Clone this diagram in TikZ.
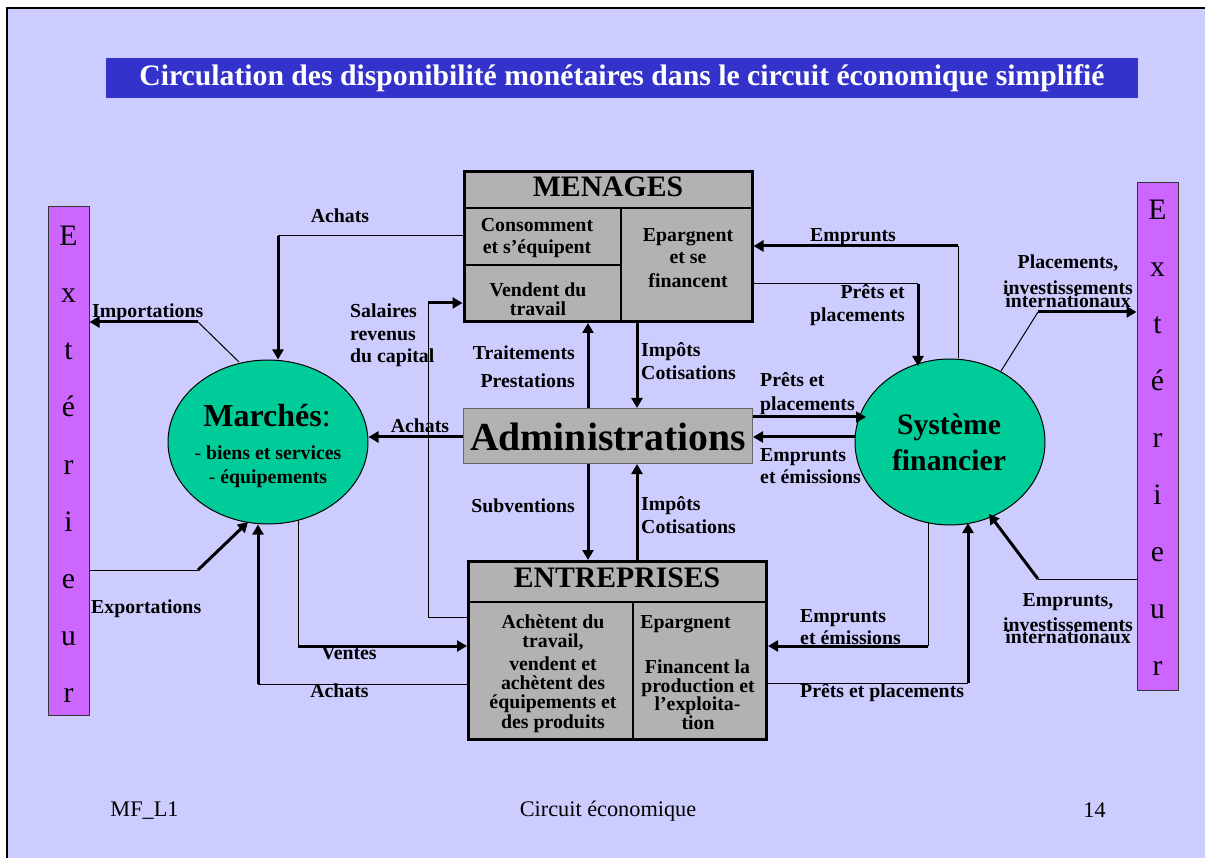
\documentclass[tikz,border=0pt]{standalone}
\usepackage{fontspec}
\setmainfont{Liberation Serif}
\usetikzlibrary{arrows.meta,shapes.geometric}
\definecolor{bgcol}{HTML}{CCCCFF}
\definecolor{titlecol}{HTML}{3333CC}
\definecolor{extcol}{HTML}{CC66FF}
\definecolor{ellcol}{HTML}{00CC99}
\definecolor{boxcol}{HTML}{B2B2B2}
\newcommand\lblfont{\bfseries\fontsize{19.8}{22}\selectfont}
\newcommand\bigfont{\bfseries\fontsize{29.7}{32}\selectfont}
\begin{document}
\begin{tikzpicture}[x=1pt,y=-1pt,
  lbl/.style={font=\lblfont, inner sep=0pt, anchor=base},
  lblL/.style={lbl, anchor=base west},
  lblR/.style={lbl, anchor=base east},
  bigtxt/.style={font=\bigfont, inner sep=0pt, anchor=base},
  thinln/.style={line width=1pt, draw=black},
  arr/.style={line width=3pt, -{Triangle[length=10pt,width=11pt]}},
  bigbox/.style={draw=black, line width=3pt, fill=boxcol, inner sep=0pt},
  ell/.style={ellipse, draw=black, line width=1pt, fill=ellcol, inner sep=0pt},
  extbox/.style={draw=black!80, line width=1pt, fill=extcol, inner sep=0pt, minimum width=41pt},
  extl/.style={font=\fontsize{29.7}{32}\selectfont, inner sep=0pt, anchor=base},
  divl/.style={line width=2pt, draw=black},
  foot/.style={font=\fontsize{22.3}{24}\selectfont, inner sep=0pt, anchor=base}
]
\useasboundingbox (0,0) rectangle (1205,858);
\fill[white] (0,0) rectangle (1205,858);
\fill[bgcol] (8,8.5) rectangle (1205,858);
\draw[line width=2.4pt] (7.2,858) -- (7.2,7.8) -- (1205,7.8);

% title
\node[fill=titlecol, minimum width=1032pt, minimum height=40pt, inner sep=0pt,
      text=white, font=\bigfont, text height=22pt, text depth=6pt] (title) at (622,78)
  {Circulation des disponibilité monétaires dans le circuit économique simplifié};

% exterieur boxes
\node[extbox, minimum height=508pt] (extL) at (68.5,461) {};
\foreach \c [count=\i from 0] in {E,x,t,é,r,i,e,u,r}
  \node[extl] (eL\i) at (68.5,246+57*\i) {\c};
\node[extbox, minimum height=507pt] (extR) at (1157.5,436.5) {};
\foreach \c [count=\i from 0] in {E,x,t,é,r,i,e,u,r}
  \node[extl] (eR\i) at (1157.5,220+56.9*\i) {\c};

% ellipses
\node[ell, minimum width=200pt, minimum height=164pt] (mar) at (268,442) {};
\node[font=\bfseries\fontsize{32}{34}\selectfont, inner sep=0pt, anchor=base] (marT) at (267,427) {Marchés\mdseries:};
\node[lbl] (mar1) at (268,459) {{\mdseries -} biens et services};
\node[lbl] (mar2) at (268,483) {{\mdseries -} équipements};

\node[ell, minimum width=190pt, minimum height=166pt] (sys) at (950,442) {};
\node[bigtxt] (sysT1) at (949,435) {Système};
\node[bigtxt] (sysT2) at (949,470) {financier};

% MENAGES
\node[bigbox, minimum width=288pt, minimum height=150pt] (men) at (608,246.5) {};
\coordinate (yMt) at (0,207.7);
\coordinate (yMm) at (0,265);
\coordinate (xMd) at (621,0);
\draw[divl] (men.west |- yMt) -- (men.east |- yMt);
\draw[divl] (xMd |- yMt) -- (xMd |- men.south);
\draw[divl] (men.west |- yMm) -- (xMd |- yMm);
\node[bigtxt] (menT) at (608,197) {MENAGES};
\node[lbl] (m1) at (537,232) {Consomment};
\node[lbl] (m2) at (537,254) {et s’équipent};
\node[lbl] (m3) at (538,297) {Vendent du};
\node[lbl] (m4) at (538,316) {travail};
\node[lbl] (m5) at (688,242) {Epargnent};
\node[lbl] (m6) at (688,264) {et se};
\node[lbl] (m7) at (688,288) {financent};

% Administrations
\node[draw=black!60, line width=1pt, fill=boxcol, minimum width=289pt, minimum height=55pt, inner sep=0pt] (adm) at (608,436) {};
\node[font=\bfseries\fontsize{39.7}{42}\selectfont, inner sep=0pt, anchor=base] (admT) at (608,450) {Administrations};

% ENTREPRISES
\node[bigbox, minimum width=298pt, minimum height=178pt] (ent) at (617.5,650.5) {};
\coordinate (yEt) at (0,602);
\coordinate (xEd) at (633,0);
\draw[divl] (ent.west |- yEt) -- (ent.east |- yEt);
\draw[divl] (xEd |- yEt) -- (xEd |- ent.south);
\node[bigtxt] (entT) at (617,587) {ENTREPRISES};
\node[lbl] (e1) at (553,628) {Achètent du};
\node[lbl] (e2) at (553,647) {travail,};
\node[lbl] (e3) at (553,670) {vendent et};
\node[lbl] (e4) at (553,689) {achètent des};
\node[lbl] (e5) at (553,708) {équipements et};
\node[lbl] (e6) at (553,728) {des produits};
\node[lbl] (e7) at (685.5,628) {Epargnent};
\node[lbl] (e8) at (697.5,673) {Financent la};
\node[lbl] (e9) at (698,692) {production et};
\node[lbl] (e10) at (697.5,710) {l’exploita-};
\node[lbl] (e11) at (698,729) {tion};

% helper coordinates
\coordinate (x588) at (588,0);
\coordinate (x637) at (637,0);
\coordinate (y437) at (0,437);
\coordinate (y417) at (0,417);

% 1 Achats (top)
\coordinate (b1) at (278,236);
\draw[thinln] (men.west |- b1) -- (b1);
\draw[arr] (b1) -- (b1 |- mar.north);
\node[lbl] (l1) at (340,223) {Achats};
% 2 Importations
\coordinate (b2s) at (239,362);
\coordinate (b2) at (198,322);
\draw[thinln] (b2s) -- (b2);
\draw[arr] (b2) -- (b2 -| extL.east);
\node[lblL] (l2) at (92,318) {Importations};
% 3 Salaires
\coordinate (b3a) at (428,617);
\coordinate (b3b) at (428,303);
\draw[thinln] (ent.west |- b3a) -- (b3a) -- (b3b);
\draw[arr] (b3b) -- (b3b -| men.west);
\node[lblL] (l3a) at (350,318) {Salaires};
\node[lblL] (l3b) at (350,341) {revenus};
\node[lblL] (l3c) at (350,363) {du capital};
% 4 Traitements
\draw[arr] (adm.north -| x588) -- (men.south -| x588);
\node[lblR] (l4a) at (575,360) {Traitements};
\node[lblR] (l4b) at (575,388) {Prestations};
% 5 Impots (top)
\draw[arr] (men.south -| x637) -- (adm.north -| x637);
\node[lblL] (l5a) at (641,357) {Impôts};
\node[lblL] (l5b) at (641,380) {Cotisations};
% 6 Achats (middle)
\draw[arr] (adm.west |- y437) -- (mar.east |- y437);
\node[lbl] (l6) at (420,432) {Achats};
% 7 Prets (middle)
\coordinate (b7e) at (866,417);
\draw[arr] (adm.east |- y417) -- (b7e);
\node[lblL] (l7a) at (760,387) {Prêts et};
\node[lblL] (l7b) at (760,410) {placements};
% 8 Emprunts (middle)
\draw[arr] (sys.west |- y437) -- (adm.east |- y437);
\node[lblL] (l8a) at (760,461) {Emprunts};
\node[lblL] (l8b) at (760,483) {et émissions};
% 9 Subventions
\draw[arr] (adm.south -| x588) -- (ent.north -| x588);
\node[lblR] (l9) at (575,512) {Subventions};
% 10 Impots (bottom)
\draw[arr] (ent.north -| x637) -- (adm.south -| x637);
\node[lblL] (l10a) at (641,510) {Impôts};
\node[lblL] (l10b) at (641,533) {Cotisations};
% 11 Emprunts (top right)
\coordinate (b11) at (958,246);
\draw[thinln] (b11 |- sys.north) -- (b11);
\draw[arr] (b11) -- (b11 -| men.east);
\node[lbl] (l11) at (853,242) {Emprunts};
% 12 Prets (top right)
\coordinate (b12) at (918,284);
\coordinate (b12e) at (918,366);
\draw[thinln] (men.east |- b12) -- (b12);
\draw[arr] (b12) -- (b12e);
\node[lblR] (l12a) at (905,299) {Prêts et};
\node[lblR] (l12b) at (905,322) {placements};
% 13 Placements internationaux
\coordinate (b13s) at (1001,371);
\coordinate (b13) at (1038,312);
\draw[thinln] (b13s) -- (b13);
\draw[arr] (b13) -- (b13 -| extR.west);
\node[lbl] (l13a) at (1068,269) {Placements,};
\node[lbl] (l13b) at (1068,295) {investissements};
\node[lbl] (l13c) at (1068,308) {internationaux};
% 14 Emprunts internationaux
\coordinate (b14) at (1038,579);
\coordinate (b14e) at (989,514);
\draw[thinln] (extR.west |- b14) -- (b14);
\draw[arr] (b14) -- (b14e);
\node[lbl] (l14a) at (1068,606) {Emprunts,};
\node[lbl] (l14b) at (1068,631) {investissements};
\node[lbl] (l14c) at (1068,643) {internationaux};
% 15 Emprunts et emissions (bottom)
\coordinate (b15s) at (928,522);
\coordinate (b15) at (928,646);
\draw[thinln] (b15s) -- (b15);
\draw[arr] (b15) -- (b15 -| ent.east);
\node[lblL] (l15a) at (800,622) {Emprunts};
\node[lblL] (l15b) at (800,644) {et émissions};
% 16 Prets et placements (bottom)
\coordinate (b16) at (968,683);
\coordinate (b16e) at (968,523);
\draw[thinln] (ent.east |- b16) -- (b16);
\draw[arr] (b16) -- (b16e);
\node[lblL] (l16) at (800,697) {Prêts et placements};
% 17 Exportations
\coordinate (b17) at (198,570);
\coordinate (b17e) at (248,522);
\draw[thinln] (extL.east |- b17) -- (b17);
\draw[arr] (b17) -- (b17e);
\node[lblL] (l17) at (91,613) {Exportations};
% 18 Ventes
\coordinate (b18s) at (298,520);
\coordinate (b18) at (298,646);
\draw[thinln] (b18s) -- (b18);
\draw[arr] (b18) -- (b18 -| ent.west);
\node[lbl] (l18) at (349,659) {Ventes};
% 19 Achats (bottom)
\coordinate (b19) at (258,684);
\draw[thinln] (ent.west |- b19) -- (b19);
\draw[arr] (b19) -- (b19 |- mar.south);
\node[lbl] (l19) at (339.5,697) {Achats};

% footer
\node[foot] (f1) at (144.5,816) {MF\_L1};
\node[foot] (f2) at (608,816) {Circuit économique};
\node[foot] (f3) at (1094.5,817) {14};
\end{tikzpicture}
\end{document}
